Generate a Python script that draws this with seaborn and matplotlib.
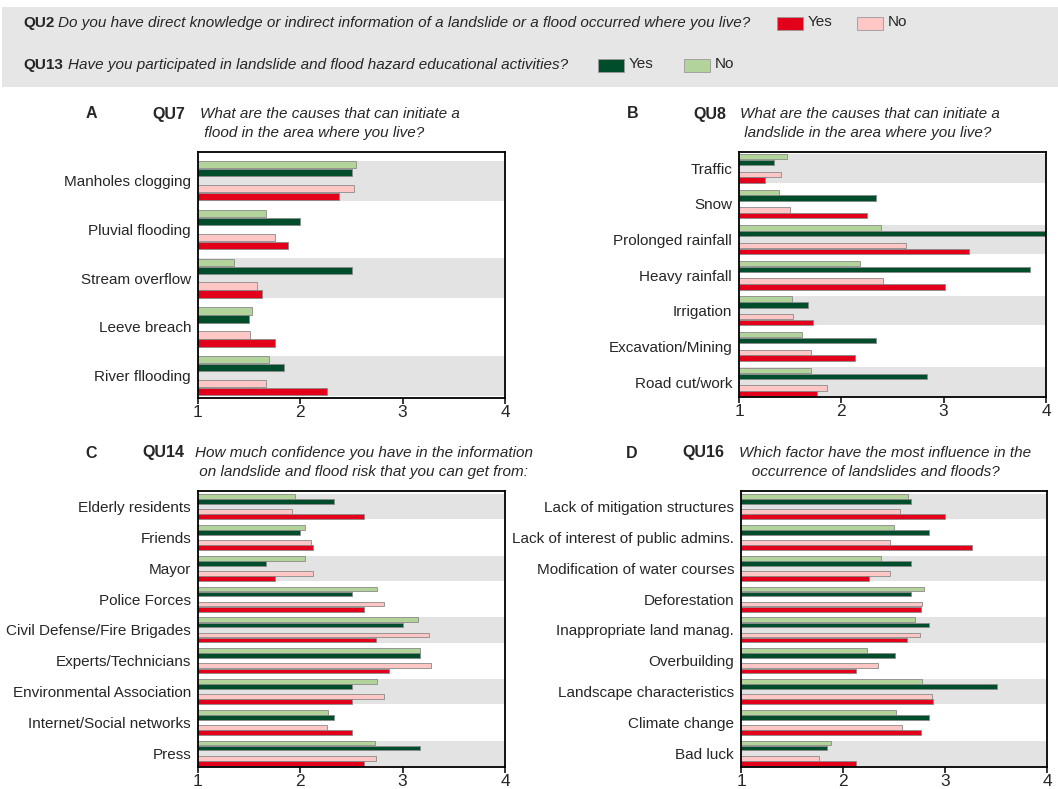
import numpy as np
import pandas as pd
import matplotlib
matplotlib.use("Agg")
import matplotlib.pyplot as plt
from matplotlib.patches import Rectangle
from matplotlib import font_manager
import seaborn as sns

# ---- data: mean scores (1-4) by respondent group -------------------------
groups = ["QU13 No", "QU13 Yes", "QU2 No", "QU2 Yes"]

qu7_causes = ["Manholes clogging", "Pluvial flooding", "Stream overflow",
              "Leeve breach", "River fllooding"]
qu7_qu13_no = [2.54, 1.66, 1.35, 1.53, 1.69]
qu7_qu13_yes = [2.50, 2.00, 2.50, 1.50, 1.84]
qu7_qu2_no = [2.52, 1.75, 1.58, 1.51, 1.66]
qu7_qu2_yes = [2.38, 1.88, 1.63, 1.75, 2.26]

qu8_causes = ["Traffic", "Snow", "Prolonged rainfall", "Heavy rainfall",
              "Irrigation", "Excavation/Mining", "Road cut/work"]
qu8_qu13_no = [1.47, 1.39, 2.39, 2.18, 1.52, 1.62, 1.70]
qu8_qu13_yes = [1.34, 2.34, 4.00, 3.84, 1.67, 2.34, 2.84]
qu8_qu2_no = [1.41, 1.50, 2.63, 2.41, 1.53, 1.70, 1.86]
qu8_qu2_yes = [1.25, 2.25, 3.25, 3.01, 1.72, 2.13, 1.76]

qu14_sources = ["Elderly residents", "Friends", "Mayor", "Police Forces",
                "Civil Defense/Fire Brigades", "Experts/Technicians",
                "Environmental Association", "Internet/Social networks", "Press"]
qu14_qu13_no = [1.95, 2.05, 2.05, 2.75, 3.15, 3.17, 2.75, 2.27, 2.73]
qu14_qu13_yes = [2.33, 2.00, 1.66, 2.50, 3.00, 3.17, 2.50, 2.33, 3.17]
qu14_qu2_no = [1.92, 2.10, 2.12, 2.82, 3.26, 3.28, 2.82, 2.26, 2.74]
qu14_qu2_yes = [2.62, 2.12, 1.75, 2.62, 2.74, 2.87, 2.50, 2.50, 2.62]

qu16_factors = ["Lack of mitigation structures", "Lack of interest of public admins.",
                "Modification of water courses", "Deforestation",
                "Inappropriate land manag.", "Overbuilding",
                "Landscape characteristics", "Climate change", "Bad luck"]
qu16_qu13_no = [2.64, 2.50, 2.37, 2.79, 2.71, 2.24, 2.77, 2.52, 1.88]
qu16_qu13_yes = [2.67, 2.84, 2.67, 2.67, 2.84, 2.51, 3.51, 2.84, 1.84]
qu16_qu2_no = [2.56, 2.46, 2.46, 2.77, 2.75, 2.34, 2.87, 2.58, 1.76]
qu16_qu2_yes = [3.00, 3.26, 2.25, 2.76, 2.63, 2.13, 2.88, 2.76, 2.13]

x_ticks = [1, 2, 3, 4]

# ---- styling ---------------------------------------------------------------
sns.set_theme(style="white")

# a narrow sans face suits the tall, compact lettering; fall back to the
# regular width at a smaller size when it is not installed
installed = {f.name for f in font_manager.fontManager.ttflist}
if "Liberation Sans Narrow" in installed:
    FAMILY = ["Liberation Sans Narrow", "DejaVu Sans"]
    FS = 12.8
    FS_TICK = 14.5
else:
    FAMILY = ["Liberation Sans", "DejaVu Sans"]
    FS = 11
    FS_TICK = 12.5
plt.rcParams["font.family"] = FAMILY

RED, PINK = "#e2001a", "#ffc6c6"
DGREEN, LGREEN = "#004d2b", "#b2d49a"
BAND = "#e3e3e3"
SPACER = " "
palette = {"QU13 No": LGREEN, "QU13 Yes": DGREEN, SPACER: "white",
           "QU2 No": PINK, "QU2 Yes": RED}
hue_order = ["QU13 No", "QU13 Yes", SPACER, "QU2 No", "QU2 Yes"]

W, H = 1058, 789
fig = plt.figure(figsize=(W / 100, H / 100), dpi=100)


def px_axes(left, top, right, bottom):
    return fig.add_axes([left / W, 1 - bottom / H, (right - left) / W, (bottom - top) / H])


def ftext(x, y, s, **kw):
    fig.text(x / W, 1 - y / H, s, ha=kw.pop("ha", "left"), va=kw.pop("va", "center"), **kw)


def long_frame(cats, series):
    rows = []
    for g, vals in zip(groups, series):
        for c, v in zip(cats, vals):
            rows.append({"item": c, "group": g, "score": v})
    return pd.DataFrame(rows)


def panel(box, ylim, cats, series):
    ax = px_axes(*box)
    n = len(cats)
    for i in range(0, n, 2):
        ax.axhspan(i - 0.41, i + 0.41, color=BAND, lw=0, zorder=0)
    df = long_frame(cats, series)
    sns.barplot(data=df, y="item", x="score", hue="group", order=cats,
                hue_order=hue_order, palette=palette, orient="h",
                width=0.82, gap=0.08, saturation=1, errorbar=None,
                edgecolor="#8a8a8a", linewidth=0.6, legend=False, ax=ax,
                zorder=2)
    ax.set_xlim(1, 4)
    ax.set_ylim(*ylim)
    ax.set_xticks(x_ticks)
    ax.set_xticklabels([str(t) for t in x_ticks])
    ax.set_xlabel("")
    ax.set_ylabel("")
    ax.tick_params(axis="x", direction="out", length=4, width=1.1,
                   labelsize=FS_TICK, pad=1, color="black", bottom=True)
    ax.tick_params(axis="y", length=0, labelsize=FS, pad=5)
    for s in ax.spines.values():
        s.set_visible(True)
        s.set_color("black")
        s.set_linewidth(1.3)
    ax.grid(False)
    return ax


# ---- header with the two legends -------------------------------------------
fig.add_artist(Rectangle((2 / W, 1 - 87 / H), 1056 / W, 80 / H,
                         transform=fig.transFigure, facecolor="#e6e6e6",
                         edgecolor="none", zorder=-5))

ftext(23, 23, "QU2", fontsize=FS, fontweight="bold")
ftext(58, 23, "Do you have direct knowledge or indirect information of a landslide "
              "or a flood occurred where you live?", fontsize=FS, style="italic")
ftext(23, 65, "QU13", fontsize=FS, fontweight="bold")
ftext(68, 65, "Have you participated in landslide and flood hazard educational activities?",
      fontsize=FS, style="italic")

for (x0, y0, col, label) in [(777, 17, RED, "Yes"), (857, 17, PINK, "No"),
                             (598, 59, DGREEN, "Yes"), (684, 59, LGREEN, "No")]:
    fig.add_artist(Rectangle((x0 / W, 1 - (y0 + 13) / H), 26 / W, 13 / H,
                             transform=fig.transFigure, facecolor=col,
                             edgecolor="#9a9a9a", lw=0.6))
    ftext(x0 + 31, y0 + 5, label, fontsize=FS)

# ---- panels -----------------------------------------------------------------
panel((198, 152, 505, 398), (4.46, -0.59), qu7_causes,
      [qu7_qu13_no, qu7_qu13_yes, qu7_qu2_no, qu7_qu2_yes])
panel((739, 152, 1046, 397), (6.42, -0.46), qu8_causes,
      [qu8_qu13_no, qu8_qu13_yes, qu8_qu2_no, qu8_qu2_yes])
panel((198, 491, 505, 767), (8.45, -0.51), qu14_sources,
      [qu14_qu13_no, qu14_qu13_yes, qu14_qu2_no, qu14_qu2_yes])
panel((741, 491, 1047, 767), (8.45, -0.51), qu16_factors,
      [qu16_qu13_no, qu16_qu13_yes, qu16_qu2_no, qu16_qu2_yes])

# ---- panel titles -----------------------------------------------------------
titles = [
    (86, 152, 200, 114, "A", "QU7", "What are the causes that can initiate a",
     " flood in the area where you live?"),
    (627, 693, 740, 114, "B", "QU8", "What are the causes that can initiate a",
     " landslide in the area where you live?"),
    (85, 142, 195, 453, "C", "QU14", "How much confidence you have in the information",
     " on landslide and flood risk that you can get from:"),
    (626, 682, 739, 453, "D", "QU16", "Which factor have the most influence in the",
     "   occurrence of landslides and floods?"),
]
for xl, xq, xt, y, letter, q, line1, line2 in titles:
    ftext(xl, y, letter, fontsize=FS * 1.05, fontweight="bold")
    ftext(xq, y, q, fontsize=FS * 1.05, fontweight="bold")
    ftext(xt, y, line1, fontsize=FS, style="italic")
    ftext(xt, y + 19, line2, fontsize=FS, style="italic")

fig.savefig("out.png", dpi=100, facecolor="white")
